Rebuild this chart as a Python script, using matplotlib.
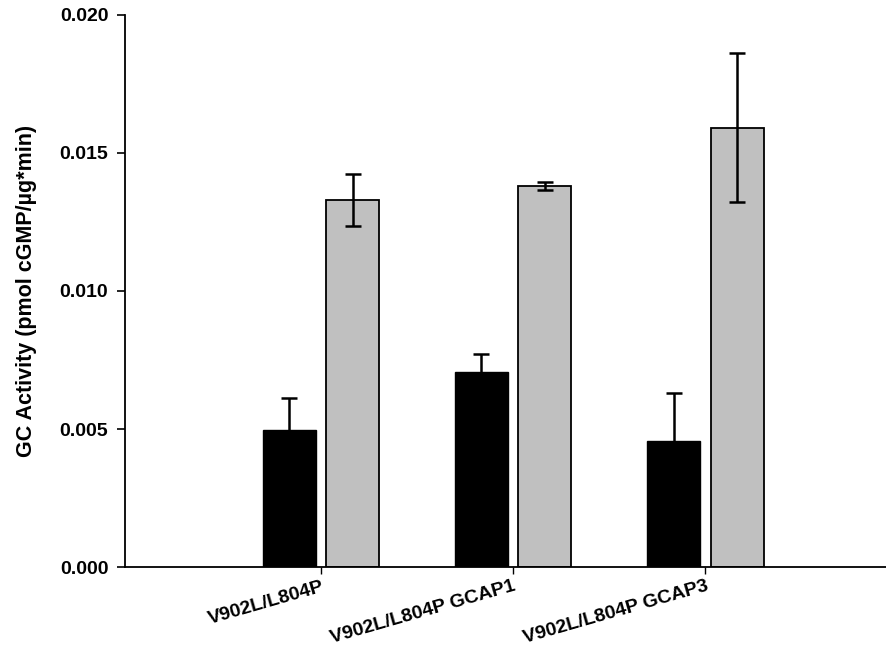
import numpy as np
import matplotlib
matplotlib.use("Agg")
import matplotlib.pyplot as plt

plt.rcParams['font.family'] = ['Liberation Sans', 'DejaVu Sans']

categories = ['V902L/L804P', 'V902L/L804P GCAP1', 'V902L/L804P GCAP3']
black_vals = [0.00495, 0.00705, 0.00458]
black_err = [0.00118, 0.00065, 0.00172]
gray_vals = [0.0133, 0.0138, 0.01592]
gray_err = [0.00095, 0.00015, 0.0027]

x = np.arange(1, len(categories) + 1)
w = 0.276
off = 0.165

fig = plt.figure(figsize=(8.86, 6.51), dpi=100)
ax = fig.add_axes([0.141, 0.129, 0.859, 0.848])

ekw = dict(elinewidth=1.8, capthick=1.8)
ax.bar(x - off, black_vals, w, color='black', edgecolor='black', linewidth=1.0,
       yerr=black_err, capsize=6, error_kw=ekw)
ax.bar(x + off, gray_vals, w, color='#c0c0c0', edgecolor='black', linewidth=1.3,
       yerr=gray_err, capsize=6, error_kw=ekw)

ax.set_xlim(-0.02, 3.94)
ax.set_ylim(0, 0.020)
ax.set_yticks([0.0, 0.005, 0.010, 0.015, 0.020])
ax.set_yticklabels(['0.000', '0.005', '0.010', '0.015', '0.020'], fontsize=14, fontweight='bold')
ax.set_xticks(x)
ax.set_xticklabels(categories, fontsize=14, fontweight='bold', rotation=16,
                   ha='right', rotation_mode='anchor')
ax.tick_params(axis='y', direction='out', length=6, width=1.2, pad=6)
ax.tick_params(axis='x', direction='out', length=5, width=1.0, pad=3)
ax.spines['top'].set_visible(False)
ax.spines['right'].set_visible(False)
ax.spines['left'].set_linewidth(1.3)
ax.spines['bottom'].set_linewidth(1.3)
ax.set_ylabel('GC Activity (pmol cGMP/µg*min)', fontsize=15.5, fontweight='bold', labelpad=16)

fig.savefig('out.png', dpi=100)
